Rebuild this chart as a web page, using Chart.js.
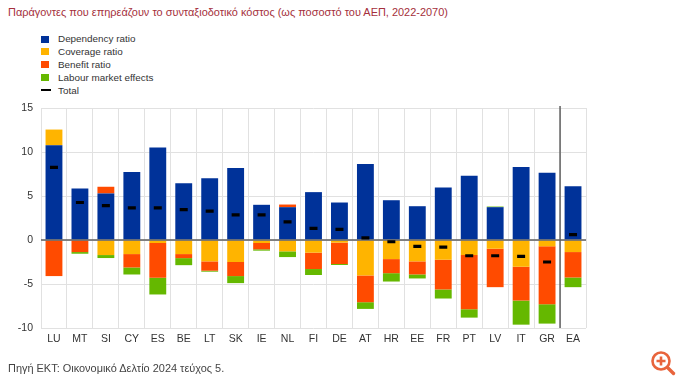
<!DOCTYPE html>
<html lang="el">
<head>
<meta charset="utf-8">
<title>Συνταξιοδοτικό κόστος</title>
<script src="https://cdn.jsdelivr.net/npm/chart.js@4"></script>
<style>
  html, body { margin: 0; padding: 0; background: #fff; }
  body { position: relative; width: 680px; height: 381px; overflow: hidden; font-family: "Liberation Sans", Arial, sans-serif; }
  canvas { position: absolute; left: 0; top: 0; }
  .title { position: absolute; left: 8px; top: 5px; font-size: 10.95px; line-height: 14px; color: #a5303c; white-space: nowrap; }
  .source { position: absolute; left: 8px; top: 362px; font-size: 10.95px; color: #444; white-space: nowrap; }
  .legend { position: absolute; left: 41px; top: 32px; font-size: 9.9px; color: #333; }
  .legend div { height: 12.9px; line-height: 13px; white-space: nowrap; }
  .legend i { display: inline-block; width: 8px; height: 7px; margin-right: 9px; vertical-align: -0.5px; }
  .legend i.dash { height: 2px; width: 10px; margin-right: 7px; vertical-align: 3px; }
  .zoom { position: absolute; left: 650px; top: 350px; }
</style>
</head>
<body>
<div class="title">Παράγοντες που επηρεάζουν το συνταξιοδοτικό κόστος (ως ποσοστό του ΑΕΠ, 2022-2070)</div>
<div class="legend" id="legend"></div>
<canvas id="myChart" width="680" height="381"></canvas>
<div class="source">Πηγή ΕΚΤ: Οικονομικό Δελτίο 2024 τεύχος 5.</div>
<svg class="zoom" width="26" height="26" viewBox="0 0 26 26">
  <circle cx="11" cy="11" r="8.5" fill="none" stroke="#e8643c" stroke-width="2.6"/>
  <path d="M11 6.5v9M6.5 11h9" stroke="#e8643c" stroke-width="2.6"/>
  <path d="M17.5 17.5l6 6" stroke="#e8643c" stroke-width="3.4" stroke-linecap="round"/>
</svg>
<script>
'use strict';

const countries = ["LU","MT","SI","CY","ES","BE","LT","SK","IE","NL","FI","DE","AT","HR","EE","FR","PT","LV","IT","GR","EA"];
const yTicks = [-10, -5, 0, 5, 10, 15];

// chart.js stacks the positive and the negative parts separately
const dependency = [10.76,5.86,5.29,7.72,10.5,6.46,7.03,8.17,4.0,3.73,5.44,4.26,8.63,4.52,3.84,5.97,7.3,3.73,8.29,7.64,6.12];
const coverage = [1.79,0,-1.71,-1.6,-0.34,-1.6,-2.43,-2.5,-0.34,-1.29,-1.44,-0.3,-4.03,-2.17,-2.43,-2.24,-1.71,-0.99,-3.04,-0.72,-1.37];
const benefit = [-4.1,-1.37,0.76,-1.52,-3.95,-0.46,-1.06,-1.6,-0.72,0.3,-1.86,-2.43,-3.04,-1.6,-1.48,-3.38,-6.16,-4.37,-3.84,-6.58,-2.89];
const labour = [0,-0.19,-0.34,-0.8,-1.9,-0.8,-0.11,-0.8,-0.15,-0.65,-0.68,-0.11,-0.76,-0.95,-0.46,-1.03,-0.95,0.07,-2.74,-2.2,-1.1];
const total = [8.25,4.26,3.9,3.65,3.65,3.46,3.27,2.85,2.85,2.05,1.33,1.2,0.25,-0.2,-0.72,-0.8,-1.79,-1.79,-1.86,-2.5,0.6];

const seriesNames = ["Dependency ratio","Coverage ratio","Benefit ratio","Labour market effects","Total"];
const seriesColors = ["#003299","#ffb400","#ff4b00","#65b800","#000000"];

// legend
let legendEl = document.getElementById("legend");
seriesNames.forEach((name, i) => {
  let row = document.createElement("div");
  let mark = document.createElement("i");
  mark.style.background = seriesColors[i];
  if (i == 4) mark.className = "dash";
  row.appendChild(mark);
  row.appendChild(document.createTextNode(name));
  legendEl.appendChild(row);
});

// zero line and the EA separator, drawn over the bars but under the total dashes
const axisLines = {
  id: "axisLines",
  afterDatasetDraw(chart, args) {
    if (args.index != 0) return;
    let { ctx, chartArea, scales } = chart;
    let y0 = scales.y.getPixelForValue(0);
    let xSep = scales.x.getPixelForValue(19.5);
    ctx.save();
    ctx.strokeStyle = "#5f5f5f";
    ctx.lineWidth = 1.5;
    ctx.beginPath();
    ctx.moveTo(chartArea.left, y0);
    ctx.lineTo(chartArea.right, y0);
    ctx.moveTo(xSep, chartArea.top - 2);
    ctx.lineTo(xSep, chartArea.bottom);
    ctx.stroke();
    ctx.restore();
  }
};

function barSet(i, values) {
  return {
    label: seriesNames[i],
    data: values,
    backgroundColor: seriesColors[i],
    stack: "factors",
    order: 1,
    categoryPercentage: 1,
    barPercentage: 0.65
  };
}

new Chart("myChart", {
  type: "bar",
  data: {
    labels: countries,
    datasets: [
      barSet(0, dependency),
      barSet(1, coverage),
      barSet(2, benefit),
      barSet(3, labour),
      {
        type: "line",
        label: seriesNames[4],
        data: total,
        order: 0,
        showLine: false,
        pointStyle: "line",
        pointRadius: 4,
        pointBorderWidth: 3.2,
        pointBorderColor: seriesColors[4],
        pointBackgroundColor: seriesColors[4]
      }
    ]
  },
  options: {
    responsive: false,
    animation: false,
    layout: { padding: { left: 0, top: 108, right: 94, bottom: 0 } },
    plugins: { legend: { display: false }, tooltip: { enabled: false } },
    scales: {
      x: {
        stacked: true,
        grid: { color: "#e1e1e1", lineWidth: 1, offset: true, drawTicks: false },
        border: { display: false },
        ticks: { color: "#333", font: { family: "Liberation Sans", size: 10.5 }, padding: 5, maxRotation: 0, autoSkip: false },
        afterFit(scale) { scale.height = 53; }
      },
      y: {
        stacked: true,
        min: -10,
        max: 15,
        afterBuildTicks(scale) { scale.ticks = yTicks.map(v => ({ value: v })); },
        grid: { color: "#e1e1e1", lineWidth: 1, drawTicks: false },
        border: { display: false },
        ticks: { color: "#333", font: { family: "Liberation Sans", size: 10.5 }, padding: 8 },
        afterFit(scale) { scale.width = 41; }
      }
    }
  },
  plugins: [axisLines]
});
</script>
</body>
</html>
